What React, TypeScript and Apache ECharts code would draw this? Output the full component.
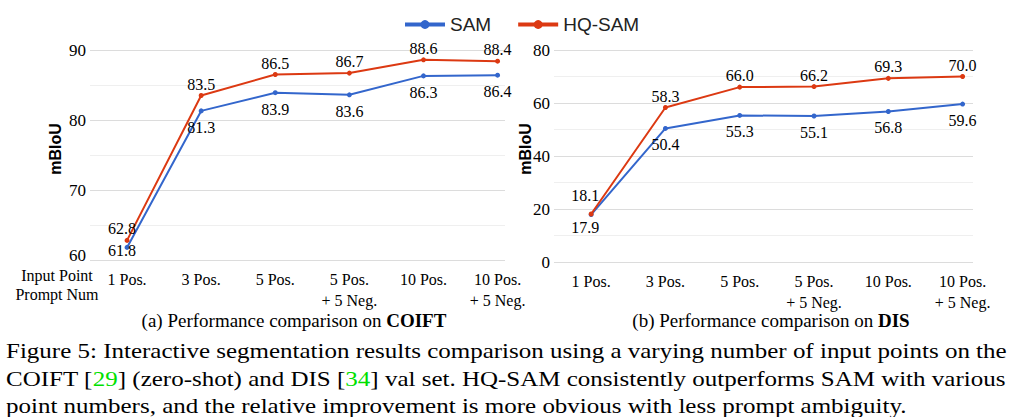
import React, { useEffect, useRef } from "react";
import * as echarts from "echarts";

const categories = ["1 Pos.", "3 Pos.", "5 Pos.", "5 Pos.\n+ 5 Neg.", "10 Pos.", "10 Pos.\n+ 5 Neg."];
const coiftSAM = [61.8, 81.3, 83.9, 83.6, 86.3, 86.4];
const coiftHQ = [62.8, 83.5, 86.5, 86.7, 88.6, 88.4];
const disSAM = [17.9, 50.4, 55.3, 55.1, 56.8, 59.6];
const disHQ = [18.1, 58.3, 66.0, 66.2, 69.3, 70.0];
const coiftRange = [60, 90];
const disRange = [0, 80];
const seriesNames = ["SAM", "HQ-SAM"];
const yName = "mBIoU";
const xNameLines = ["Input Point", "Prompt Num"];
const captionA = ["(a) Performance comparison on ", "COIFT"];
const captionB = ["(b) Performance comparison on ", "DIS"];
const figLines = [
  "{n|Figure 5: Interactive segmentation results comparison using a varying number of input points on the}",
  "{n|COIFT [}{g|29}{n|] (zero-shot) and DIS [}{g|34}{n|] val set. HQ-SAM consistently outperforms SAM with various}",
  "{n|point numbers, and the relative improvement is more obvious with less prompt ambiguity.}",
];

const SERIF = "'Liberation Serif', 'Times New Roman', serif";
const SANS = "'Liberation Sans', Arial, sans-serif";
const BLUE = "#3366cc";
const RED = "#dc3912";

export default function App() {
  const ref = useRef<HTMLDivElement>(null);
  useEffect(() => {
    document.body.style.margin = "0";
    const chart = echarts.init(ref.current!, null, { renderer: "svg" });

    const xAxisFor = (gridIndex: number, max: number) => ({
      type: "value",
      gridIndex,
      min: -0.5,
      max,
      axisLine: { show: false },
      axisTick: { show: false },
      splitLine: { show: false },
      axisLabel: {
        customValues: categories.map((_, i) => i),
        formatter: (v: number) => categories[Math.round(v)] ?? "",
        fontFamily: SERIF,
        fontSize: 16,
        color: "#000",
        lineHeight: 21,
        margin: 9,
      },
    });
    const yAxisFor = (gridIndex: number, range: number[], interval: number, showMin: boolean) => ({
      type: "value",
      gridIndex,
      position: "left",
      min: range[0],
      max: range[1],
      interval,
      axisLine: { show: false },
      axisTick: { show: false },
      axisLabel: {
        showMinLabel: showMin,
        fontFamily: SERIF,
        fontSize: 17,
        lineHeight: 12,
        color: "#000",
        margin: 4,
      },
      splitLine: { lineStyle: { color: "#dcdcdc", width: 1 } },
      minorTick: { show: false, splitNumber: 2 },
      minorSplitLine: { show: true, lineStyle: { color: "#efefef", width: 1 } },
    });
    // bottom label of the COIFT axis, sitting just above its grid line as in the reference
    const yMinLabelAxis = {
      type: "value",
      gridIndex: 0,
      position: "left",
      offset: 0,
      min: coiftRange[0],
      max: coiftRange[1],
      axisLine: { show: false },
      axisTick: { show: false },
      splitLine: { show: false },
      axisLabel: {
        customValues: [coiftRange[0]],
        fontFamily: SERIF,
        fontSize: 17,
        lineHeight: 10,
        verticalAlign: "bottom",
        color: "#000",
        margin: 4,
      },
    };

    const mk = (
      name: string,
      values: number[],
      color: string,
      idx: number,
      pos: "top" | "bottom",
      firstOffset: number[]
    ) => ({
      name,
      type: "line",
      xAxisIndex: idx,
      yAxisIndex: idx,
      symbol: "circle",
      symbolSize: 5,
      color,
      lineStyle: { width: 2, color },
      itemStyle: { color },
      data: values.map((v, i) =>
        i === 0 ? { value: [i, v], label: { offset: firstOffset } } : { value: [i, v] }
      ),
      label: {
        show: true,
        position: pos,
        distance: pos === "top" ? 1 : 6,
        fontFamily: SERIF,
        fontSize: 16,
        color: "#000",
        formatter: (p: any) => p.value[1].toFixed(1),
      },
    });

    const rotName = (x: number) => ({
      type: "text",
      x,
      y: 149,
      rotation: Math.PI / 2,
      style: {
        text: yName,
        fontFamily: SANS,
        fontWeight: "bold",
        fontSize: 16,
        fill: "#000",
        align: "center",
        verticalAlign: "middle",
      },
    });
    const caption = (x: number, parts: string[]) => ({
      type: "text",
      x,
      y: 321,
      scaleX: 1.055,
      style: {
        text: `{n|${parts[0]}}{b|${parts[1]}}`,
        align: "center",
        verticalAlign: "middle",
        rich: {
          n: { fontFamily: SERIF, fontSize: 18, fill: "#000" },
          b: { fontFamily: SERIF, fontSize: 18, fontWeight: "bold", fill: "#000" },
        },
      },
    });

    chart.setOption({
      animation: false,
      backgroundColor: "#fff",
      legend: {
        data: seriesNames,
        left: 398,
        top: 10,
        itemWidth: 40,
        itemHeight: 11,
        itemGap: 25,
        lineStyle: { width: 4 },
        textStyle: { fontFamily: SANS, fontSize: 19, color: "#222" },
      },
      grid: [
        { left: 90, right: 510, top: 50, bottom: 157 },
        { left: 554, right: 42, top: 50, bottom: 155 },
      ],
      xAxis: [xAxisFor(0, 5.1), xAxisFor(1, 5.14)],
      yAxis: [yAxisFor(0, coiftRange, 10, false), yAxisFor(1, disRange, 20, true), yMinLabelAxis],
      series: [
        mk(seriesNames[0], coiftSAM, BLUE, 0, "bottom", [-5, -13]),
        mk(seriesNames[1], coiftHQ, RED, 0, "top", [-5, 0]),
        mk(seriesNames[0], disSAM, BLUE, 1, "bottom", [-6, -4]),
        mk(seriesNames[1], disHQ, RED, 1, "top", [-6, -7]),
      ],
      graphic: [
        rotName(55),
        rotName(525),
        ...xNameLines.map((t, i) => ({
          type: "text",
          x: 57,
          y: 275 + i * 19,
          style: {
            text: t,
            fontFamily: SERIF,
            fontSize: 16,
            lineHeight: 14,
            fill: "#000",
            align: "center",
            verticalAlign: "middle",
          },
        })),
        caption(294, captionA),
        caption(771, captionB),
        ...figLines.map((t, i) => ({
          type: "text",
          x: 6,
          y: 351 + i * 27.5,
          scaleX: 1.19,
          style: {
            text: t,
            align: "left",
            verticalAlign: "middle",
            rich: {
              n: { fontFamily: SERIF, fontSize: 21, fill: "#000" },
              g: { fontFamily: SERIF, fontSize: 21, fill: "#00e000" },
            },
          },
        })),
      ],
    });
    return () => chart.dispose();
  }, []);
  return <div ref={ref} style={{ width: 1015, height: 417, position: "absolute", left: 0, top: 0 }} />;
}
